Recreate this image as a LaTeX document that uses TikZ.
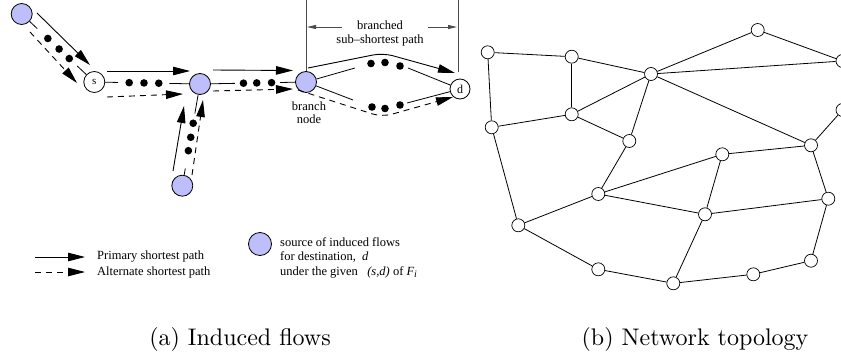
\documentclass[tikz,border=0pt]{standalone}
\usepackage{fontspec}
\newfontfamily\tms{Liberation Serif}
\newfontfamily\capfont{lmroman10-regular}[Extension=.otf]
\usetikzlibrary{arrows.meta,calc}
\definecolor{srcblue}{RGB}{190,190,250}
\tikzset{
  src/.style={circle,draw,fill=srcblue,minimum size=21pt,inner sep=0pt,line width=0.8pt},
  endpt/.style={circle,draw,fill=white,minimum size=21pt,inner sep=0pt,line width=0.8pt,font=\tms\fontsize{11}{11}\selectfont},
  prim/.style={line width=0.9pt,-{Triangle[length=17pt,width=8.5pt]}},
  alt/.style={prim,dash pattern=on 6pt off 5pt},
  link/.style={line width=0.8pt},
  dimln/.style={gray!60!black,line width=0.9pt},
  dimarr/.style={dimln,-{Triangle[length=9pt,width=4pt]}},
  txt/.style={font=\tms\fontsize{12.5}{14}\selectfont,inner sep=0pt},
  captext/.style={font=\capfont\fontsize{24}{28}\selectfont,inner sep=0pt},
  router/.style={circle,draw,fill=white,minimum size=13pt,inner sep=0pt,line width=0.7pt}
}
\begin{document}
\begin{tikzpicture}[x=1pt,y=-1pt]
    \clip (0,0) rectangle (841,356);

    % (a) induced flows
    \node [src] (u1) at (21.7,14) {};
    \node [endpt] (s) at (94.3,82) {s};
    \node [src] (u2) at (200,84) {};
    \node [src] (u3) at (182.3,185.7) {};
    \node [src] (u4) at (306,82) {};
    \node [endpt,minimum size=20pt,font=\tms\fontsize{12}{12}\selectfont] (d) at (460,89) {d};

    \draw [link] (u1) -- ($(u1)!0.215!(s)$);
    \draw [link] ($(u1)!0.765!(s)$) -- (s);
    \foreach \t in {0.36,0.515,0.655}
        \fill ($(u1)!\t!(s)$) circle [radius=3.8pt];
    \coordinate (a1) at (37,13);
    \coordinate (a2) at (90,65);
    \coordinate (b1) at (30,32);
    \coordinate (b2) at (77,83);
    \draw [prim] (a1) -- (a2);
    \draw [alt] (b1) -- (b2);

    \draw [link] (s) -- ($(s)!0.225!(u2)$);
    \draw [link] ($(s)!0.71!(u2)$) -- (u2);
    \foreach \t in {0.33,0.47,0.61}
        \fill ($(s)!\t!(u2)$) circle [radius=3.8pt];
    \coordinate (a3) at (107,71);
    \coordinate (a4) at (190,71);
    \coordinate (b3) at (107,97);
    \coordinate (b4) at (183,94);
    \draw [prim] (a3) -- (a4);
    \draw [alt] (b3) -- (b4);

    \draw [link] (u3) -- ($(u3)!0.17!(u2)$);
    \draw [link] ($(u3)!0.71!(u2)$) -- (u2);
    \foreach \t in {0.344,0.476,0.614}
        \fill ($(u3)!\t!(u2)$) circle [radius=3.8pt];
    \coordinate (a5) at (173,171);
    \coordinate (a6) at (184,106);
    \coordinate (b5) at (192,175);
    \coordinate (b6) at (203,100);
    \draw [prim] (a5) -- (a6);
    \draw [alt] (b5) -- (b6);

    \draw [link] (u2) -- ($(u2)!0.33!(u4)$);
    \draw [link] ($(u2)!0.755!(u4)$) -- (u4);
    \foreach \t in {0.41,0.535,0.675}
        \fill ($(u2)!\t!(u4)$) circle [radius=3.8pt];
    \coordinate (a7) at (213,70);
    \coordinate (a8) at (293,70.5);
    \coordinate (b7) at (213,91);
    \coordinate (b8) at (293,89);
    \draw [prim] (a7) -- (a8);
    \draw [alt] (b7) -- (b8);

    \coordinate (up1) at (355,68);
    \coordinate (up2) at (408,68);
    \draw [link] (u4) -- (up1);
    \draw [link] (up2) -- (d);
    \foreach \p in {(371,63.5),(385,62.5),(400,66)}
        \fill \p circle [radius=3.8pt];
    \coordinate (lo1) at (353,100);
    \coordinate (lo2) at (407,103);
    \draw [link] (u4) -- (lo1);
    \draw [link] (lo2) -- (d);
    \foreach \p in {(372,107),(385,108.5),(400,105)}
        \fill \p circle [radius=3.8pt];

    \coordinate (ua) at (308,68);
    \coordinate (uk) at (383,53);
    \coordinate (ub) at (455,73);
    \draw [prim,rounded corners=10pt] (ua) -- (uk) -- (ub);
    \coordinate (la) at (298,90);
    \coordinate (lk) at (382,117);
    \coordinate (lb) at (453,97);
    \draw [alt,rounded corners=10pt] (la) -- (lk) -- (lb);

    \coordinate (vl) at (306,0);
    \coordinate (vr) at (458,0);
    \coordinate (vrb) at (458,72);
    \draw [dimln] (vl) -- (u4);
    \draw [dimln] (vr) -- (vrb);
    \coordinate (hl1) at (342,27);
    \coordinate (hl2) at (307,27);
    \coordinate (hr1) at (428,27);
    \coordinate (hr2) at (457,27);
    \draw [dimarr] (hl1) -- (hl2);
    \draw [dimarr] (hr1) -- (hr2);
    \node [txt] (t1) at (380,25) {branched};
    \node [txt] (t2) at (380,40) {sub\textendash shortest path};
    \node [txt] (t3) at (309,106) {branch};
    \node [txt] (t4) at (309,119) {node};

    \coordinate (k1) at (35,257);
    \coordinate (k2) at (85,257);
    \coordinate (k3) at (35,272);
    \coordinate (k4) at (85,272);
    \draw [prim] (k1) -- (k2);
    \draw [alt] (k3) -- (k4);
    \node [txt,anchor=west] (t5) at (97,257) {Primary shortest path};
    \node [txt,anchor=west] (t6) at (97,272) {Alternate shortest path};
    \node [src,minimum size=23pt] (key) at (260,244) {};
    \node [txt,anchor=west] (t7) at (280,242) {source of induced flows};
    \node [txt,anchor=west] (t8) at (280,257) {for destination,\ \ {\itshape d}};
    \node [txt,anchor=west] (t9) at (280,272) {under the given\ \ \ {\itshape (s,d)} of {\itshape F\raisebox{-0.4ex}{\fontsize{10}{10}\selectfont i}}};

    \node [captext] (ca) at (240,339) {(a) Induced flows};

    % (b) network topology
    \node [router] (n1) at (487.7,52.3) {};
    \node [router] (n2) at (571.7,56.7) {};
    \node [router] (n3) at (651,74) {};
    \node [router] (n4) at (757.7,30) {};
    \node [router] (n5) at (842.5,61) {};
    \node [router] (n6) at (491.7,127.3) {};
    \node [router] (n7) at (571.7,114.3) {};
    \node [router] (n8) at (629.3,141) {};
    \node [router] (n9) at (842.5,110) {};
    \node [router] (n10) at (811,145.3) {};
    \node [router] (n11) at (722.3,154.3) {};
    \node [router] (n12) at (598.3,194) {};
    \node [router] (n13) at (518.3,225.3) {};
    \node [router] (n14) at (705,214.3) {};
    \node [router] (n15) at (828.3,198.7) {};
    \node [router] (n16) at (598.3,269.3) {};
    \node [router] (n17) at (673.3,283.3) {};
    \node [router] (n18) at (753.3,274.3) {};
    \node [router] (n19) at (811,260.7) {};
    \foreach \a/\b in {n1/n2,n1/n6,n2/n3,n2/n7,n3/n4,n3/n5,n3/n7,n3/n8,n3/n10,
        n4/n5,n6/n7,n6/n13,n7/n8,n8/n12,n9/n10,n10/n11,n10/n15,n11/n12,n11/n14,
        n12/n13,n12/n14,n13/n16,n14/n15,n14/n17,n16/n17,n17/n18,n18/n19,n19/n15}
        \draw [link] (\a) -- (\b);

    \node [captext] (cb) at (695,339) {(b) Network topology};
\end{tikzpicture}
\end{document}
